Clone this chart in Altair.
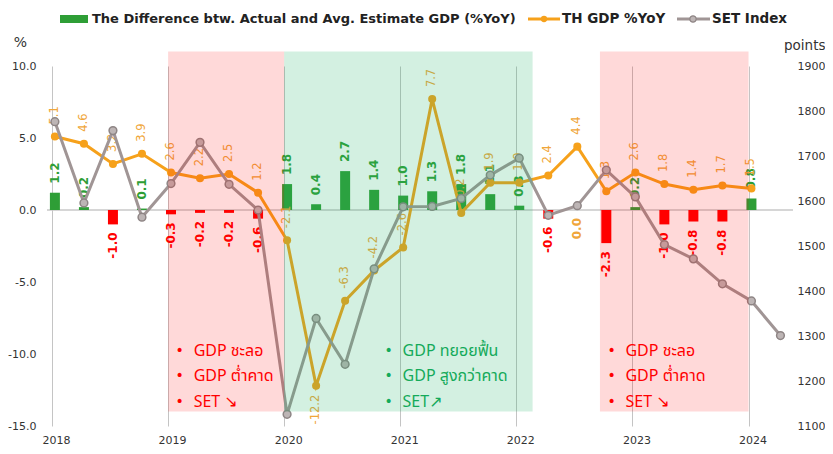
import altair as alt
import pandas as pd

# ---------------- data ----------------
quarters = ["2018Q1", "2018Q2", "2018Q3", "2018Q4",
            "2019Q1", "2019Q2", "2019Q3", "2019Q4",
            "2020Q1", "2020Q2", "2020Q3", "2020Q4",
            "2021Q1", "2021Q2", "2021Q3", "2021Q4",
            "2022Q1", "2022Q2", "2022Q3", "2022Q4",
            "2023Q1", "2023Q2", "2023Q3", "2023Q4",
            "2024Q1"]
gdp = [5.1, 4.6, 3.2, 3.9,
       2.6, 2.2, 2.5, 1.2,
       -2.1, -12.2, -6.3, -4.2,
       -2.6, 7.7, -0.2, 1.9,
       1.9, 2.4, 4.4, 1.3,
       2.6, 1.8, 1.4, 1.7,
       1.5]
diff = [1.2, 0.2, -1.0, 0.1,
        -0.3, -0.2, -0.2, -0.6,
        1.8, 0.4, 2.7, 1.4,
        1.0, 1.3, 1.8, 1.1,
        0.3, -0.6, 0.0, -2.3,
        0.2, -1.0, -0.8, -0.8,
        0.8]
set_quarters = quarters + ["2024Q2"]
set_index = [1776.3, 1595.6, 1756.4, 1563.9,
             1638.7, 1730.3, 1637.2, 1579.8,
             1125.9, 1339.0, 1237.0, 1449.4,
             1587.2, 1587.8, 1605.7, 1657.6,
             1695.2, 1568.3, 1589.5, 1668.7,
             1609.2, 1503.1, 1471.4, 1415.9,
             1377.9, 1301.0]
years = [2018, 2019, 2020, 2021, 2022, 2023, 2024]

region_start = [2019.0, 2020.0, 2022.72]
region_end = [2020.0, 2022.14, 2024.0]
region_kind = ["down", "up", "down"]
notes_down = ["GDP ชะลอ", "GDP ต่ำคาด", "SET ↘"]
notes_up = ["GDP ทยอยฟื้น", "GDP สูงกว่าคาด", "SET↗"]

legend_labels = ["The Difference btw. Actual and Avg. Estimate GDP (%YoY)",
                 "TH GDP %YoY", "SET Index"]

# ---------------- styling ----------------
GREEN = "#2E9E36"
RED = "#FF0000"
ORANGE = "#F6A11B"
ORANGE_L = "#F0A63A"
GRAY = "#A09595"
NOTE_RED = "#FF0000"
NOTE_GREEN = "#14AA5A"
FONT = "DejaVu Sans"
THAI = "Noto Sans Thai, Noto Sans, DejaVu Sans, sans-serif"
W, H = 746, 360


def qx(label):
    return int(label[:4]) + (int(label[-1]) - 1) * 0.25 + 0.025


main = pd.DataFrame({"q": quarters, "x": [qx(s) for s in quarters],
                     "gdp": gdp, "diff": diff})
main["gdp_txt"] = [f"{v:.1f}" for v in gdp]
main["diff_txt"] = [f"{v:.1f}" for v in diff]
main["sign"] = ["pos" if v > 0 else ("neg" if v < 0 else "zero") for v in diff]

setdf = pd.DataFrame({"q": set_quarters, "x": [qx(s) for s in set_quarters],
                      "set": set_index})

regions = pd.DataFrame({"start": region_start, "end": region_end,
                        "kind": region_kind, "top": 11.0, "bottom": -14.0})

note_rows = []
row_y = [-9.8, -11.5, -13.3]
for s, k in zip(region_start, region_kind):
    texts = notes_down if k == "down" else notes_up
    for j, t in enumerate(texts):
        note_rows.append({"x": s + 0.22 if k == "down" else s + 1.02,
                          "y": row_y[j], "text": t, "kind": k})
notes = pd.DataFrame(note_rows)
notes["bx"] = notes["x"] - 0.12

XS = alt.Scale(domain=[2018, 2024.34], nice=False, zero=False)
XA = alt.Axis(values=years, format="d", grid=True, gridColor="#C4C4C4",
              gridWidth=1, domain=False, ticks=False, tickSize=0,
              labelPadding=8, labelOffset=4, labelFont=FONT, labelFontSize=11,
              labelColor="#333333", labelFlush=False, labelOverlap=False, title=None)
YS = alt.Scale(domain=[-15, 10], nice=False, zero=False)
YA = alt.Axis(title="%", titleAngle=0, titleX=-27, titleY=-24, titleAlign="center",
              titleBaseline="middle", titleFont=FONT, titleFontSize=14,
              titleFontWeight="normal", titleColor="#333333",
              values=[-15, -10, -5, 0, 5, 10],
              labelExpr="replace(format(datum.value, '.1f'), '\u2212', '-')",
              grid=False, domain=False, ticks=False, tickSize=0, labelPadding=11,
              labelFont=FONT, labelFontSize=11, labelColor="#333333")
SIGN_SCALE = alt.Scale(domain=["pos", "neg", "zero"], range=[GREEN, RED, ORANGE_L])


def X(f="x:Q"):
    return alt.X(f, scale=XS, axis=XA)


base = alt.Chart(main)

zero_line = alt.Chart(pd.DataFrame({"z": [0]})).mark_rule(
    color="#C8C8C8", strokeWidth=1.5).encode(y=alt.Y("z:Q", scale=YS, axis=YA))

bars = base.mark_bar(size=10, orient="vertical").encode(
    x=X(), y=alt.Y("diff:Q", scale=YS, axis=YA), y2=alt.datum(0),
    color=alt.Color("sign:N", scale=SIGN_SCALE, legend=None))

bar_lab_pos = base.transform_filter("datum.diff > 0").mark_text(
    angle=270, align="left", baseline="middle", dx=9, font=FONT,
    fontSize=12, fontWeight="bold").encode(
    x=X(), y=alt.Y("diff:Q", scale=YS, axis=YA), text="diff_txt:N",
    color=alt.Color("sign:N", scale=SIGN_SCALE, legend=None))

bar_lab_neg = base.transform_filter("datum.diff <= 0").mark_text(
    angle=270, align="right", baseline="middle", dx=-8, font=FONT,
    fontSize=12, fontWeight="bold").encode(
    x=X(), y=alt.Y("diff:Q", scale=YS, axis=YA), text="diff_txt:N",
    color=alt.Color("sign:N", scale=SIGN_SCALE, legend=None))

gdp_lab_up = base.transform_filter("datum.gdp > -10").mark_text(
    angle=270, align="left", baseline="middle", dx=12, font=FONT,
    fontSize=11.5, color=ORANGE_L).encode(
    x=X(), y=alt.Y("gdp:Q", scale=YS, axis=YA), text="gdp_txt:N")

gdp_lab_dn = base.transform_filter("datum.gdp <= -10").mark_text(
    angle=270, align="right", baseline="middle", dx=-9, font=FONT,
    fontSize=11.5, color=ORANGE_L).encode(
    x=X(), y=alt.Y("gdp:Q", scale=YS, axis=YA), text="gdp_txt:N")

gdp_line = base.mark_line(color=ORANGE, strokeWidth=3).encode(
    x=X(), y=alt.Y("gdp:Q", scale=YS, axis=YA))
gdp_pts = base.mark_point(shape="circle", filled=True, size=65, opacity=1,
                          color=ORANGE).encode(
    x=X(), y=alt.Y("gdp:Q", scale=YS, axis=YA))

left = alt.layer(zero_line, bars, bar_lab_pos, bar_lab_neg, gdp_lab_up,
                 gdp_lab_dn, gdp_line, gdp_pts)

SS = alt.Scale(domain=[1100, 1900], nice=False, zero=False)
SA = alt.Axis(orient="right", title="points", titleAngle=0, titleX=32, titleY=-21,
              titleAlign="right", titleBaseline="middle", titleFont=FONT,
              titleFontSize=13.5, titleFontWeight="normal", titleColor="#333333",
              values=list(range(1100, 2000, 100)), format="d", grid=False,
              domain=False, ticks=False, tickSize=0, labelPadding=4,
              labelFont=FONT, labelFontSize=11, labelColor="#333333")
sbase = alt.Chart(setdf)
set_line = sbase.mark_line(color=GRAY, strokeWidth=3).encode(
    x=X(), y=alt.Y("set:Q", scale=SS, axis=SA))
set_pts = sbase.mark_point(shape="circle", filled=True, size=60, opacity=1,
                           fill="#BDB5B5", stroke="#8E8585", strokeWidth=1.5).encode(
    x=X(), y=alt.Y("set:Q", scale=SS, axis=SA))
right = alt.layer(set_line, set_pts)

# ---------------- overlay: shading, notes, legend ----------------
reg = alt.Chart(regions)
shade_down = reg.transform_filter("datum.kind == 'down'").mark_rect(
    color="#FF0000", opacity=0.15).encode(
    x=X("start:Q"), x2="end:Q",
    y=alt.Y("top:Q", scale=YS, axis=None), y2="bottom:Q")
shade_up = reg.transform_filter("datum.kind == 'up'").mark_rect(
    color="#21B36B", opacity=0.2).encode(
    x=X("start:Q"), x2="end:Q",
    y=alt.Y("top:Q", scale=YS, axis=None), y2="bottom:Q")

nt = alt.Chart(notes)
note_layers = []
for kind, col in [("down", NOTE_RED), ("up", NOTE_GREEN)]:
    flt = f"datum.kind == '{kind}'"
    note_layers.append(nt.transform_filter(flt).mark_text(
        align="left", baseline="middle", font=THAI, fontSize=16, color=col).encode(
        x=X(), y=alt.Y("y:Q", scale=YS, axis=None), text="text:N"))
    note_layers.append(nt.transform_filter(flt).mark_text(
        align="center", baseline="middle", font=FONT, fontSize=14, color=col,
        text="\u2022").encode(
        x=X("bx:Q"), y=alt.Y("y:Q", scale=YS, axis=None)))

LY = -47
leg_df = pd.DataFrame({"t": [0]})
leg_rect = alt.Chart(leg_df).mark_rect(color=GREEN).encode(
    x=alt.value(13), x2=alt.value(41), y=alt.value(LY - 4), y2=alt.value(LY + 4))
leg_t1 = alt.Chart(leg_df).mark_text(align="left", baseline="middle", font=FONT,
                                     fontSize=13, fontWeight="bold", color="#222222",
                                     text=legend_labels[0]).encode(
    x=alt.value(45), y=alt.value(LY))
leg_l2 = alt.Chart(leg_df).mark_rule(color=ORANGE, strokeWidth=3).encode(
    x=alt.value(481), x2=alt.value(513), y=alt.value(LY))
leg_p2 = alt.Chart(leg_df).mark_point(shape="circle", filled=True, size=40,
                                      opacity=1, color=ORANGE).encode(
    x=alt.value(497), y=alt.value(LY))
leg_t2 = alt.Chart(leg_df).mark_text(align="left", baseline="middle", font=FONT,
                                     fontSize=13.5, fontWeight="bold", color="#222222",
                                     text=legend_labels[1]).encode(
    x=alt.value(515), y=alt.value(LY))
leg_l3 = alt.Chart(leg_df).mark_rule(color=GRAY, strokeWidth=3).encode(
    x=alt.value(630), x2=alt.value(663), y=alt.value(LY))
leg_p3 = alt.Chart(leg_df).mark_point(shape="circle", filled=True, size=40,
                                      opacity=1, fill="#BDB5B5", stroke="#8E8585",
                                      strokeWidth=1.2).encode(
    x=alt.value(646), y=alt.value(LY))
leg_t3 = alt.Chart(leg_df).mark_text(align="left", baseline="middle", font=FONT,
                                     fontSize=13.5, fontWeight="bold", color="#222222",
                                     text=legend_labels[2]).encode(
    x=alt.value(665), y=alt.value(LY))

overlay = alt.layer(shade_down, shade_up, *note_layers, leg_rect, leg_t1, leg_l2,
                    leg_p2, leg_t2, leg_l3, leg_p3, leg_t3)

chart = alt.layer(left, right, overlay).resolve_scale(
    y="independent"
).properties(
    width=W, height=H,
    padding={"left": 39, "top": 58, "right": 32, "bottom": 20},
    autosize=alt.AutoSizeParams(type="none"),
    background="white",
).configure_view(stroke=None)

chart.save("out.html", embed_options={"renderer": "svg", "actions": False})
